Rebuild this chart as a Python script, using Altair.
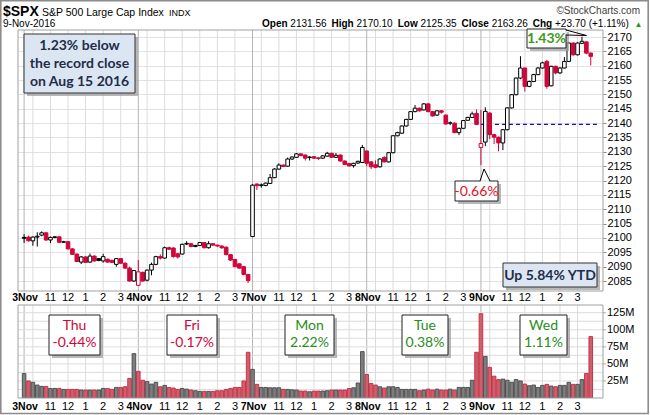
import altair as alt
import pandas as pd

days = ["3Nov", "4Nov", "7Nov", "8Nov", "9Nov"]
bars_per_day = 26
hour_ticks = [6, 10, 14, 18, 22]
hour_labels = ["11", "12", "1", "2", "3"]
grid_ticks = [2, 6, 10, 14, 18, 22]
prev_close = 2097.94

opens = [
    2100.2, 2100.3, 2099.0, 2100.3, 2101.0, 2101.8, 2099.3, 2100.2, 2100.4, 2098.5, 2098.7, 2096.2, 2094.4,
    2091.6, 2093.4, 2091.6, 2093.7, 2092.8, 2092.0, 2092.6, 2092.2, 2090.8, 2092.8, 2091.2, 2089.5, 2085.0,
    2083.5, 2088.0, 2085.3, 2088.8, 2090.8, 2093.5, 2093.0, 2096.6, 2096.5, 2094.5, 2094.4, 2097.9, 2098.0,
    2097.0, 2097.4, 2098.4, 2096.6, 2098.0, 2097.5, 2097.2, 2096.8, 2094.2, 2092.5, 2091.0, 2090.0, 2087.3,
    2100.5, 2118.8, 2118.3, 2118.3, 2119.0, 2121.0, 2124.0, 2125.4, 2125.0, 2127.5, 2128.1, 2129.3, 2128.9,
    2128.0, 2128.3, 2127.9, 2127.8, 2128.5, 2129.5, 2128.1, 2128.9, 2126.8, 2125.9, 2125.2, 2126.1, 2126.3,
    2130.3, 2126.5, 2125.5, 2124.8, 2128.0, 2126.5, 2129.7, 2135.6, 2136.5, 2139.0, 2141.3, 2144.0, 2145.2,
    2144.6, 2146.7, 2144.0, 2142.8, 2144.3, 2142.8, 2140.0, 2140.0, 2136.7, 2138.2, 2141.0, 2142.0, 2143.4,
    2131.56, 2133.4, 2143.5, 2136.0, 2135.1, 2133.1, 2137.7, 2145.3, 2149.9, 2155.7, 2159.2, 2152.8, 2154.5,
    2156.9, 2159.2, 2161.5, 2153.0, 2159.8, 2157.5, 2159.2, 2161.5, 2167.9, 2163.8, 2167.8, 2168.3, 2164.4,
]
closes = [
    2099.9, 2099.0, 2100.3, 2100.6, 2101.8, 2099.3, 2100.2, 2100.4, 2098.5, 2098.7, 2096.2, 2094.3, 2091.8,
    2093.4, 2091.5, 2093.7, 2092.0, 2092.2, 2093.5, 2091.6, 2091.5, 2092.8, 2091.2, 2089.5, 2085.0, 2088.66,
    2088.2, 2085.0, 2088.8, 2090.8, 2093.5, 2093.0, 2096.6, 2096.1, 2093.5, 2093.4, 2097.8, 2098.1, 2097.0,
    2097.4, 2098.4, 2096.6, 2098.0, 2097.5, 2097.2, 2096.6, 2094.2, 2092.3, 2090.0, 2089.5, 2087.3, 2085.18,
    2118.4, 2118.2, 2118.5, 2119.1, 2121.0, 2124.0, 2125.4, 2124.9, 2127.5, 2128.2, 2129.3, 2128.7, 2127.8,
    2128.2, 2127.8, 2127.7, 2128.6, 2129.5, 2128.1, 2128.8, 2126.8, 2125.6, 2125.1, 2126.0, 2126.7, 2131.52,
    2126.0, 2124.8, 2124.6, 2127.5, 2126.5, 2129.7, 2135.6, 2136.7, 2139.0, 2141.3, 2144.0, 2145.2, 2144.3,
    2146.7, 2144.0, 2142.5, 2144.3, 2143.8, 2139.7, 2140.1, 2136.7, 2138.2, 2140.9, 2142.0, 2143.2, 2139.56,
    2132.9, 2144.1, 2136.0, 2135.1, 2133.1, 2137.7, 2145.3, 2149.9, 2155.7, 2159.2, 2152.8, 2154.5, 2156.9,
    2159.2, 2161.0, 2152.8, 2159.8, 2157.5, 2159.2, 2161.5, 2167.9, 2163.8, 2167.9, 2168.5, 2164.4, 2163.26,
]
highs = [
    2101.3, 2100.8, 2100.6, 2102.0, 2102.3, 2102.0, 2100.5, 2100.7, 2100.6, 2099.0, 2098.9, 2096.4, 2094.6,
    2093.7, 2093.6, 2094.6, 2093.9, 2093.0, 2094.5, 2092.8, 2092.4, 2093.0, 2093.0, 2091.5, 2090.0, 2088.8,
    2092.3, 2088.3, 2089.0, 2091.4, 2093.8, 2094.3, 2097.0, 2097.0, 2096.8, 2094.8, 2098.0, 2098.9, 2098.2,
    2097.6, 2098.6, 2098.6, 2098.9, 2098.2, 2097.7, 2097.4, 2097.0, 2094.4, 2092.7, 2091.2, 2090.2, 2087.5,
    2118.8, 2119.0, 2119.0, 2119.3, 2122.3, 2124.3, 2126.0, 2125.6, 2128.0, 2128.4, 2129.6, 2129.5, 2129.1,
    2128.5, 2128.5, 2128.1, 2128.8, 2130.0, 2129.7, 2129.6, 2129.1, 2127.0, 2126.1, 2126.2, 2126.9, 2132.4,
    2130.5, 2126.7, 2127.0, 2127.8, 2128.5, 2130.0, 2135.8, 2137.0, 2139.2, 2141.5, 2144.2, 2146.3, 2145.4,
    2147.0, 2146.9, 2144.2, 2144.5, 2144.6, 2143.0, 2140.6, 2140.2, 2138.4, 2141.1, 2142.2, 2144.0, 2144.8,
    2144.6, 2145.5, 2143.8, 2136.3, 2135.3, 2138.0, 2145.5, 2150.1, 2155.9, 2163.3, 2159.4, 2154.8, 2157.2,
    2159.5, 2161.4, 2162.0, 2160.0, 2160.0, 2159.5, 2163.0, 2168.2, 2168.1, 2168.2, 2170.1, 2168.5, 2164.6,
]
lows = [
    2098.3, 2098.8, 2097.3, 2097.0, 2100.6, 2099.0, 2098.2, 2099.9, 2098.3, 2098.3, 2096.0, 2094.1, 2091.6,
    2090.9, 2091.3, 2091.3, 2091.8, 2091.9, 2091.4, 2091.4, 2091.3, 2090.0, 2091.0, 2089.3, 2084.8, 2084.7,
    2083.3, 2084.8, 2084.9, 2087.0, 2090.5, 2092.5, 2092.8, 2095.8, 2093.2, 2092.8, 2094.2, 2097.5, 2096.8,
    2096.8, 2097.2, 2096.4, 2096.3, 2097.3, 2096.9, 2096.2, 2094.0, 2092.0, 2089.8, 2089.3, 2087.0, 2084.3,
    2100.3, 2116.7, 2117.5, 2118.0, 2118.8, 2120.8, 2123.8, 2124.7, 2124.8, 2127.2, 2127.9, 2128.5, 2127.0,
    2127.0, 2127.5, 2127.2, 2127.6, 2128.3, 2128.0, 2127.9, 2126.6, 2125.4, 2124.9, 2124.5, 2125.8, 2126.1,
    2125.0, 2124.0, 2124.3, 2124.5, 2126.3, 2126.3, 2129.5, 2135.4, 2136.3, 2138.8, 2141.1, 2143.8, 2144.0,
    2144.4, 2143.8, 2142.3, 2142.5, 2143.3, 2139.5, 2139.3, 2136.5, 2135.8, 2138.0, 2140.8, 2141.8, 2139.3,
    2125.35, 2132.0, 2134.4, 2132.7, 2130.2, 2130.6, 2137.5, 2145.1, 2149.7, 2155.3, 2151.0, 2152.5, 2154.3,
    2156.7, 2159.0, 2152.0, 2152.8, 2157.0, 2157.2, 2159.0, 2161.3, 2163.5, 2163.6, 2167.5, 2164.0, 2160.1,
]
volumes_m = [
    36, 25, 23, 19, 17, 17, 14, 14, 14, 12.6, 12.6, 12.6, 12.6, 11.7, 11.7, 11.7, 11.7, 11.7, 14, 14, 12.6,
    15.5, 15.5, 16.5, 28.7, 65,
    39, 26, 24, 20.4, 23, 16.5, 18.5, 15.5, 14.6, 12.6, 14, 13, 11.7, 10.7, 9.7, 9.7, 9.7, 9.7, 10.7, 10.7,
    12.6, 14, 15.5, 15.5, 25, 67,
    42, 20, 15.5, 15.5, 15, 15, 15, 12.6, 12.6, 12, 11.7, 10.2, 10.2, 9.2, 10.2, 10.2, 10.2, 10.7, 11.7, 11.7,
    11.7, 11.7, 14, 15, 22, 68,
    34.5, 21.4, 19, 16.5, 14.6, 16.5, 16.5, 15.5, 12.6, 12.6, 12.6, 12.6, 10.7, 11.7, 13, 11.7, 13, 11.7, 11.7,
    13, 11.7, 15.5, 15.5, 15.5, 26, 67,
    123.5, 61, 45, 32, 27, 27.7, 26, 23, 27, 25, 20.4, 18, 19, 15.5, 18.5, 20, 17.5, 16.5, 18.5, 18.5, 23, 20,
    20, 27, 36, 90,
]
price_ticks = list(range(2085, 2171, 5))
vol_ticks = [25, 50, 75, 100, 125]
vol_grid = [12.5, 25, 37.5, 50, 62.5, 75, 87.5, 100, 112.5, 125]
dashed_level = 2139.56

day_names = ["Thu", "Fri", "Mon", "Tue", "Wed"]
day_changes = ["-0.44%", "-0.17%", "2.22%", "0.38%", "1.11%"]

header_pairs = [("Open", "2131.56"), ("High", "2170.10"), ("Low", "2125.35"),
                ("Close", "2163.26"), ("Chg", "+23.70 (+1.11%)")]

RED = "#d0063a"
GREEN = "#2a8c1c"

# ---------------- data frames ----------------
n = len(closes)
prevs = [prev_close] + closes[:-1]
df = pd.DataFrame({
    "k": list(range(n)), "open": opens, "close": closes, "high": highs, "low": lows,
    "vol": volumes_m,
})
df["edge"] = ["#000000" if c >= p else RED for c, p in zip(closes, prevs)]
df["body"] = ["#ffffff" if c > o else e for c, o, e in zip(closes, opens, df["edge"])]
df["vfill"] = ["#7e7e7e" if c >= p else "#cf5f6d" for c, p in zip(closes, prevs)]
df["vedge"] = ["#474747" if c >= p else "#c22a40" for c, p in zip(closes, prevs)]

day_lbl = pd.DataFrame({"k": [d * bars_per_day for d in range(len(days))], "label": days})
hour_lbl = pd.DataFrame({
    "k": [d * bars_per_day + t for d in range(len(days)) for t in hour_ticks],
    "label": [lab for d in range(len(days)) for lab in hour_labels],
})
vgrid_hour = pd.DataFrame({"k": [d * bars_per_day + t for d in range(len(days)) for t in grid_ticks]})
vgrid_day = pd.DataFrame({"k": [d * bars_per_day for d in range(len(days))]})

one = pd.DataFrame({"a": [0]})

W, H = 585, 368
PH = 261
xs = alt.Scale(domain=[-0.25, 130.65], nice=False, zero=False)
ps = alt.Scale(domain=[2081.88, 2172.44], range=[260, 0], nice=False, zero=False)
vs = alt.Scale(domain=[0, 125], range=[368, 282.7], nice=False, zero=False)
paxis = alt.Axis(orient="right", values=price_ticks, format="d", title=None, labelFontSize=11,
                 labelFont="Liberation Sans", labelColor="#000000", tickSize=3,
                 tickColor="#8a8a8a", domain=False, grid=True, gridColor="#e2e2e2",
                 labelPadding=1)
X = alt.X("k:Q", scale=xs, axis=None)


def rect(x0, x1, y0, y1, fill="#ffffff", stroke=None, sw=1.0, op=1.0):
    kw = dict(fill=fill, opacity=op)
    if stroke:
        kw.update(stroke=stroke, strokeWidth=sw)
    return alt.Chart(one).mark_rect(**kw).encode(
        x=alt.value(x0), x2=alt.value(x1), y=alt.value(y0), y2=alt.value(y1))


def frame(x0, x1, y0, y1, stroke="#a0a0a0", sw=1.0):
    return alt.Chart(one).mark_rect(fillOpacity=0, stroke=stroke, strokeWidth=sw).encode(
        x=alt.value(x0), x2=alt.value(x1), y=alt.value(y0), y2=alt.value(y1))


def seg(x0, y0, x1, y1, color="#000000", sw=1.0):
    return alt.Chart(one).mark_rule(color=color, strokeWidth=sw).encode(
        x=alt.value(x0), x2=alt.value(x1), y=alt.value(y0), y2=alt.value(y1))


def txt(s, x, y, size=11, weight="normal", color="#000000", font="Liberation Sans",
        align="left", baseline="alphabetic"):
    return alt.Chart(one).mark_text(text=s, fontSize=size, fontWeight=weight, color=color,
                                    font=font, align=align, baseline=baseline).encode(
        x=alt.value(x), y=alt.value(y))


# Arial advance widths (em) used only to lay out the header row
AW = {"O": .778, "p": .611, "e": .556, "n": .611, "H": .722, "i": .278, "g": .611, "h": .611,
      "L": .611, "o": .611, "w": .778, "C": .722, "l": .278, "s": .556}
RW = {".": .278, " ": .278, "+": .584, "(": .333, ")": .333, "%": .889}


def bold_w(s, size):
    return sum(AW.get(c, .6) for c in s) * size


def reg_w(s, size):
    return sum(RW.get(c, .556) for c in s) * size


# ---------------- background & frames ----------------
bg = rect(-18, 632, -30, 385, fill="#ffffff", op=0)
outer = frame(-17.2, 630.2, -29.2, 383.5, stroke="#8c8c8c", sw=1.6)

vg_h_price = alt.Chart(vgrid_hour).mark_rule(color="#dcdcdc", strokeWidth=1).encode(
    x=X, y=alt.value(0), y2=alt.value(PH))
vg_d_price = alt.Chart(vgrid_day).mark_rule(color="#b4b4b4", strokeWidth=1).encode(
    x=X, y=alt.value(0), y2=alt.value(PH))
vg_h_vol = alt.Chart(vgrid_hour).mark_rule(color="#dcdcdc", strokeWidth=1).encode(
    x=X, y=alt.value(275), y2=alt.value(H))
vg_d_vol = alt.Chart(vgrid_day).mark_rule(color="#b4b4b4", strokeWidth=1).encode(
    x=X, y=alt.value(275), y2=alt.value(H))

# ---------------- price panel ----------------
base = alt.Chart(df)
wicks = base.mark_rule(strokeWidth=1, clip=True).encode(
    x=X, y=alt.Y("low:Q", scale=ps, axis=paxis), y2="high:Q",
    color=alt.Color("edge:N", scale=None))
bodies = base.mark_bar(size=3.6, strokeWidth=1, clip=True).encode(
    x=X, y=alt.Y("open:Q", scale=ps, axis=paxis), y2="close:Q",
    fill=alt.Fill("body:N", scale=None), stroke=alt.Stroke("edge:N", scale=None))
dash = alt.Chart(pd.DataFrame({"lvl": [dashed_level], "k0": [104], "k1": [130.65]})).mark_rule(
    color="#1010d0", strokeWidth=1.2, strokeDash=[4, 3]).encode(
    x=alt.X("k0:Q", scale=xs, axis=None), x2="k1:Q",
    y=alt.Y("lvl:Q", scale=ps, axis=paxis))
price = alt.layer(wicks, dash, bodies)

# ---------------- volume panel ----------------
vgrid = alt.Chart(pd.DataFrame({"v": vol_grid})).mark_rule(color="#dcdcdc").encode(
    y=alt.Y("v:Q", scale=vs, axis=None), x=alt.value(0), x2=alt.value(W))
vbars = base.mark_bar(size=3.6, strokeWidth=0.9, clip=True).encode(
    x=X, y=alt.Y("vol:Q", scale=vs, axis=None), y2=alt.datum(0),
    fill=alt.Fill("vfill:N", scale=None), stroke=alt.Stroke("vedge:N", scale=None))
vticks = alt.Chart(pd.DataFrame({"v": vol_ticks})).mark_tick(
    color="#8a8a8a", thickness=1, size=3, orient="horizontal").encode(
    y=alt.Y("v:Q", scale=vs, axis=None), x=alt.value(586.5))
vlabels = alt.Chart(pd.DataFrame({"v": vol_ticks, "t": [f"{v}M" for v in vol_ticks]})).mark_text(
    align="left", baseline="middle", fontSize=11, font="Liberation Sans", color="#000000").encode(
    y=alt.Y("v:Q", scale=vs, axis=None), x=alt.value(589), text="t:N")
volume = alt.layer(vgrid, vbars, vticks, vlabels)


# ---------------- x labels (two rows) ----------------
def xlabels(ypix):
    d = alt.Chart(day_lbl).mark_text(fontSize=10.5, fontWeight="bold", font="Liberation Sans",
                                     baseline="middle", align="center", dx=1).encode(
        x=X, y=alt.value(ypix), text="label:N")
    h = alt.Chart(hour_lbl).mark_text(fontSize=11, font="Liberation Sans",
                                      baseline="middle", align="center").encode(
        x=X, y=alt.value(ypix), text="label:N")
    return [d, h]


# ---------------- annotations ----------------
ann = []
NAVY = "#1f2d4a"
ann += [rect(9, 120, 7, 66, fill="#9a9a9a", op=0.7),
        rect(6, 117, 4, 63, fill="#dce6f2", stroke="#333333", sw=1),
        txt("1.23% below", 61.5, 16, size=14, weight="bold", color=NAVY, font="Lato",
            align="center", baseline="middle"),
        txt("the record close", 61.5, 34, size=14, weight="bold", color=NAVY, font="Lato",
            align="center", baseline="middle"),
        txt("on Aug 15 2016", 61.5, 52, size=14, weight="bold", color=NAVY, font="Lato",
            align="center", baseline="middle")]
ann += [rect(488, 582, 236, 260, fill="#9a9a9a", op=0.7),
        rect(485, 579, 233, 257, fill="#dce6f2", stroke="#333333", sw=1),
        txt("Up 5.84% YTD", 532, 245.5, size=14, weight="bold", color=NAVY, font="Lato",
            align="center", baseline="middle")]
ann += [rect(440, 483, 154, 174, fill="#9a9a9a", op=0.7),
        rect(437, 480, 151, 171, fill="#ffffff", stroke="#222222", sw=1),
        seg(462.5, 151, 471.5, 151, color="#ffffff", sw=1.6),
        seg(462, 151, 466, 139), seg(466, 139, 472, 151),
        txt("-0.66%", 458.5, 161.5, size=14, color="#e3101e", font="Lato",
            align="center", baseline="middle")]
ann += [rect(512, 551, 2, 21, fill="#9a9a9a", op=0.7),
        rect(509, 548, -1, 18, fill="#ffffff", stroke="#222222", sw=1),
        seg(548, 0.5, 548, 4.5, color="#ffffff", sw=1.6),
        seg(548, 0, 568.5, 5.5), seg(568.5, 5.5, 548, 5),
        txt("1.43%", 528.5, 9, size=14, weight="bold", color="#3c9a1a", font="Lato",
            align="center", baseline="middle")]
box_x = [31, 149, 267, 384, 502]
box_w = [51, 50, 49, 46, 47]
for i, (nm, ch) in enumerate(zip(day_names, day_changes)):
    x0 = box_x[i]
    x1 = x0 + box_w[i]
    col = RED if ch.startswith("-") else GREEN
    cx = (x0 + x1) / 2
    ann += [rect(x0 + 3, x1 + 3, 288, 328, fill="#9a9a9a", op=0.7),
            rect(x0, x1, 285, 325, fill="#ffffff", stroke="#222222", sw=1),
            txt(nm, cx, 296, size=14, color=col, font="Lato", align="center", baseline="middle"),
            txt(ch, cx, 313, size=14, color=col, font="Lato", align="center", baseline="middle")]

# ---------------- header ----------------
hdr = [
    txt("$SPX", -15, -14, size=14, weight="bold"),
    txt("S&P 500 Large Cap Index", 24, -14, size=10.5),
    txt("INDX", 151, -14, size=9),
    txt("\u00a9StockCharts.com", 622, -16, size=10, color="#404040", align="right"),
    txt("9-Nov-2016", -15, -3, size=10),
]
hx = 244.0
for lab, val in header_pairs:
    hdr.append(txt(lab, hx, -3, size=10, weight="bold"))
    hx += bold_w(lab, 10) + 2.8
    hdr.append(txt(val, hx, -3, size=10))
    hx += reg_w(val, 10) + 5
hdr.append(txt("\u25b2", hx, -3.5, size=8, color="#1e9a1e"))

frames = [frame(0, W, 0, PH), frame(0, W, 275, H)]

chart = alt.layer(
    bg, vg_h_price, vg_d_price, vg_h_vol, vg_d_vol,
    price, volume,
    *frames,
    *xlabels(268), *xlabels(377),
    *ann, *hdr, outer,
).resolve_scale(y="independent").properties(
    width=W, height=H, padding=0
).configure(background="#ffffff").configure_view(stroke=None)

chart.save("out.html", embed_options={"renderer": "svg", "actions": False})
